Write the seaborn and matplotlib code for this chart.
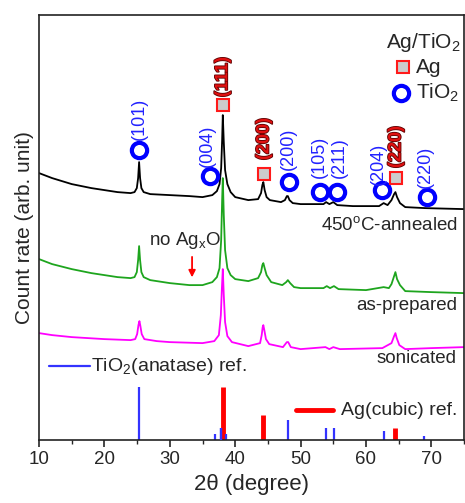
import numpy as np
import pandas as pd
import matplotlib
matplotlib.use("Agg")
import matplotlib.pyplot as plt
import matplotlib.patheffects as pe
import seaborn as sns

# ---- data (2theta in degrees, intensity in arbitrary units) ----
annealed_x = [10, 12, 15, 18, 20, 22, 24, 24.6, 24.95, 25.15, 25.3, 25.45, 25.65, 26.0, 27, 30, 33, 35, 36.5,
              37.2, 37.6, 37.85, 38.0, 38.1, 38.25, 38.45, 38.8, 39.3, 40, 42, 43.5, 43.95, 44.15, 44.3, 44.5,
              44.8, 45.3, 47, 47.6, 47.9, 48.05, 48.3, 48.8, 50, 53.5, 53.9, 54.4, 55.0, 55.6, 58, 62, 62.7,
              63.3, 63.9, 64.3, 64.5, 64.75, 65.2, 66, 69, 75]
annealed_y = [267, 262, 256, 252, 250, 248, 247, 248, 252, 262, 278, 262, 252, 248, 246, 245, 244, 243, 245,
              249, 256, 272, 300, 325, 298, 270, 256, 248, 243, 240, 241, 247, 255, 258, 250,
              243, 240, 238, 240, 244, 244, 240, 237, 236, 236, 238, 236, 238, 235, 234, 234, 237,
              235, 240, 246, 248, 243, 237, 233, 232, 231]

prepared_x = [10, 12, 15, 18, 20, 22, 24, 24.6, 24.95, 25.15, 25.3, 25.45, 25.65, 26.0, 27, 30, 33, 35, 36.5,
              37.2, 37.6, 37.85, 38.0, 38.1, 38.25, 38.45, 38.8, 39.3, 40, 42, 43.5, 43.95, 44.15, 44.3, 44.5,
              44.8, 45.5, 47.2, 47.8, 48.05, 48.4, 49, 50, 53.5, 54.0, 54.5, 55.1, 55.8, 60, 62.7, 63.5, 63.9,
              64.3, 64.5, 64.75, 65.2, 66, 70, 75]
prepared_y = [181, 176, 171, 167, 165, 163, 162, 163, 168, 180, 194, 180, 168, 163, 160, 157, 155, 155, 158,
              163, 172, 200, 240, 262, 225, 190, 172, 165, 161, 159, 162, 168, 175, 177, 172,
              165, 158, 155, 158, 160, 157, 153, 152, 152, 154, 152, 154, 151, 150, 153, 152, 156,
              164, 168, 161, 155, 149, 148, 147]

sonicated_x = [10, 12, 15, 20, 24, 24.7, 25.0, 25.2, 25.35, 25.5, 25.7, 26.1, 28, 30, 35, 36.8, 37.5, 37.8,
               37.95, 38.1, 38.25, 38.45, 38.8, 39.5, 42, 43.8, 44.05, 44.2, 44.3, 44.45, 44.7, 45.2, 47.3,
               47.9, 48.1, 48.5, 50, 53.8, 54.4, 55.0, 56, 62.5, 63.9, 64.3, 64.5, 64.7, 65.1, 66, 70, 75]
sonicated_y = [107, 105, 103, 101, 100, 101, 106, 115, 119, 114, 106, 101, 99, 98, 97, 99, 105, 125,
               150, 171, 145, 118, 104, 98, 94, 97, 105, 113, 115, 110, 101, 96, 93,
               98, 98, 93, 91, 93, 91, 93, 91, 92, 97, 104, 107, 102, 95, 91, 92, 93]

tio2_ref_pos = [25.3, 36.9, 37.8, 38.6, 48.0, 53.9, 55.1, 62.7, 68.8]
tio2_ref_int = [53, 6, 12, 6, 20, 12, 12, 9, 4]
ag_ref_pos = [38.1, 44.3, 64.4]
ag_ref_int = [53, 25, 12]

tio2_mark_x = [25.3, 36.1, 48.2, 53.0, 55.6, 62.4, 69.4]
tio2_mark_y = [290, 264, 258, 248, 248, 250, 243]
tio2_labels = ["(101)", "(004)", "(200)", "(105)", "(211)", "(204)", "(220)"]
tio2_label_x = [25.3, 35.8, 48.2, 52.8, 55.9, 61.9, 69.1]
tio2_label_y = [300, 273, 270, 262, 262, 255, 252]

ag_mark_x = [38.1, 44.4, 64.6]
ag_mark_y = [335, 266, 262]
ag_labels = ["(111)", "(200)", "(220)"]
ag_label_x = [38.1, 44.4, 64.6]
ag_label_y = [343, 280, 272]

# ---- figure ----
sns.set_style("ticks")
plt.rcParams['font.family'] = ['Liberation Sans', 'DejaVu Sans']
plt.rcParams['mathtext.fontset'] = 'custom'
plt.rcParams['mathtext.rm'] = 'Liberation Sans'
plt.rcParams['mathtext.it'] = 'Liberation Sans'

fig = plt.figure(figsize=(4.65, 5.03), dpi=100)
ax = fig.add_axes([0.084, 0.125, 0.914, 0.845])

curves = [(annealed_x, annealed_y, "black"),
          (prepared_x, prepared_y, "#1ea51e"),
          (sonicated_x, sonicated_y, "#ff00ff")]
for xs, ys, c in curves[::-1]:
    df = pd.DataFrame({"x": xs, "y": ys})
    sns.lineplot(data=df, x="x", y="y", ax=ax, color=c, lw=1.3, sort=False, estimator=None)

ax.vlines(tio2_ref_pos, 0, tio2_ref_int, color="#3333ff", lw=1.6)
ax.vlines(ag_ref_pos, 0, ag_ref_int, color="#ff0000", lw=3.5, zorder=1)
ax.vlines([tio2_ref_pos[2]], 0, [tio2_ref_int[2]], color="#3333ff", lw=1.6, zorder=3)

ax.plot(tio2_mark_x, tio2_mark_y, 'o', ms=11, mfc='none', mec='#0000ff', mew=3.0, ls='none')
ax.plot(ag_mark_x, ag_mark_y, 's', ms=9, mfc='#cccccc', mec='#ff1a1a', mew=1.5, ls='none')

for lx, ly, t in zip(tio2_label_x, tio2_label_y, tio2_labels):
    ax.text(lx, ly, t, rotation=90, ha='center', va='bottom', color='#2222ff', fontsize=13)
for lx, ly, t in zip(ag_label_x, ag_label_y, ag_labels):
    ax.text(lx, ly, t, rotation=90, ha='center', va='bottom', color='#e01010', fontsize=13,
            fontweight='bold', path_effects=[pe.withStroke(linewidth=1.2, foreground='#5a0000')])

# legend (top right)
ax.text(74.4, 398, "Ag/TiO$_2$", ha='right', va='center', fontsize=15)
ax.plot([65.6], [373], 's', ms=9, mfc='#cccccc', mec='#ff1a1a', mew=1.5)
ax.text(67.6, 373, "Ag", ha='left', va='center', fontsize=15)
ax.plot([65.4], [347], 'o', ms=11, mfc='none', mec='#0000ff', mew=3.0)
ax.text(67.6, 347, "TiO$_2$", ha='left', va='center', fontsize=15)

# sample labels
ax.text(74.0, 215, "450$^{\\mathrm{o}}$C-annealed", ha='right', va='center', fontsize=13.5)
ax.text(74.0, 135, "as-prepared", ha='right', va='center', fontsize=13.5)
ax.text(73.8, 82, "sonicated", ha='right', va='center', fontsize=13.5)
ax.text(32.3, 200, "no Ag$_\\mathrm{x}$O", ha='center', va='center', fontsize=13.5)
ax.annotate("", xy=(33.4, 160), xytext=(33.4, 186),
            arrowprops=dict(arrowstyle='-|>', color='red', lw=1.3, mutation_scale=10))

# reference legends
ax.plot([11.5, 17.8], [74, 74], color='#3333ff', lw=1.6)
ax.text(18.0, 74, "TiO$_2$(anatase) ref.", ha='left', va='center', fontsize=14)
ax.plot([49.3, 55.0], [30, 30], color='#ff0000', lw=3.5)
ax.text(56.2, 30, "Ag(cubic) ref.", ha='left', va='center', fontsize=14)

ax.set_xlim(10, 75)
ax.set_ylim(0, 425)
ax.set_yticks([])
ax.set_xticks([10, 20, 30, 40, 50, 60, 70])
ax.set_xticks([15, 25, 35, 45, 55, 65, 75], minor=True)
ax.tick_params(axis='x', which='major', direction='out', length=5, width=1.2, labelsize=13.5, pad=3)
ax.tick_params(axis='x', which='minor', direction='out', length=3, width=1.0)
for s in ax.spines.values():
    s.set_visible(True)
    s.set_linewidth(1.2)
    s.set_color('#222222')
ax.set_xlabel("2\u03b8 (degree)", fontsize=16, labelpad=4)
ax.set_ylabel("Count rate (arb. unit)", fontsize=15, labelpad=4)

fig.savefig("out.png", dpi=100)
